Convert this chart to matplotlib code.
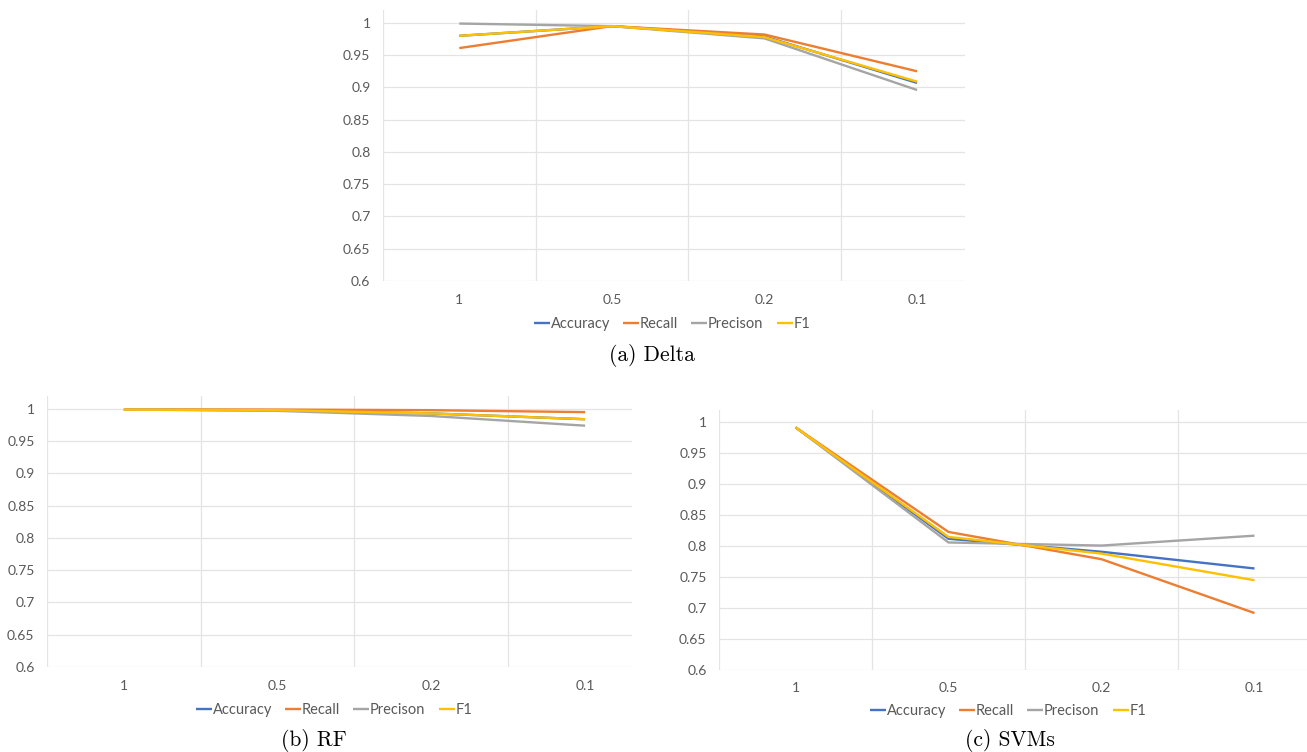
import matplotlib
matplotlib.use('Agg')
import matplotlib.pyplot as plt


fractions = ['1', '0.5', '0.2', '0.1']
metrics = ['Accuracy', 'Recall', 'Precison', 'F1']
colors = ['#4472C4', '#ED7D31', '#A5A5A5', '#FFC000']

delta_accuracy = [0.980, 0.995, 0.979, 0.907]
delta_recall = [0.961, 0.995, 0.982, 0.925]
delta_precision = [0.999, 0.995, 0.976, 0.896]
delta_f1 = [0.980, 0.995, 0.978, 0.909]

rf_accuracy = [0.999, 0.998, 0.993, 0.984]
rf_recall = [0.999, 0.999, 0.998, 0.995]
rf_precision = [0.999, 0.997, 0.989, 0.974]
rf_f1 = [0.999, 0.998, 0.993, 0.984]

svm_accuracy = [0.992, 0.812, 0.791, 0.764]
svm_recall = [0.992, 0.823, 0.779, 0.692]
svm_precision = [0.992, 0.806, 0.801, 0.817]
svm_f1 = [0.992, 0.815, 0.788, 0.745]

yticks = [0.6, 0.65, 0.7, 0.75, 0.8, 0.85, 0.9, 0.95, 1.0]
ytick_labels = ['0.6', '0.65', '0.7', '0.75', '0.8', '0.85', '0.9', '0.95', '1']

W, H = 1307, 752
TEXT = '#595959'
GRID = '#E4E4E4'
FONT = 'Lato'


def px_axes(fig, left, top, right, bottom):
	# pixel box -> figure fraction
	return fig.add_axes([left / W, 1 - bottom / H, (right - left) / W, (bottom - top) / H])


def draw_panel(fig, box, xmax, series, legend_xy, caption, caption_xy):
	ax = px_axes(fig, *box)
	x = list(range(len(fractions)))
	for ys, name, col in zip(series, metrics, colors):
		ax.plot(x, ys, color=col, lw=1.7, label=name, solid_capstyle='butt')

	ax.set_xlim(-0.5, xmax)
	ax.set_ylim(0.6, 1.02)
	ax.set_yticks(yticks)
	ax.set_yticklabels(ytick_labels)
	ax.set_xticks(x)
	ax.set_xticklabels(fractions)
	ax.tick_params(length=0, labelsize=10, labelcolor=TEXT)
	ax.tick_params(axis='y', pad=9)
	ax.tick_params(axis='x', pad=9)
	for lab in ax.get_xticklabels() + ax.get_yticklabels():
		lab.set_fontfamily(FONT)

	# horizontal grid on the value ticks, vertical ones between categories
	for y in yticks:
		ax.axhline(y, color=GRID, lw=0.9, zorder=0)
	for xv in [-0.5, 0.5, 1.5, 2.5]:
		ax.axvline(xv, color=GRID, lw=0.9, zorder=0)
	for s in ax.spines.values():
		s.set_visible(False)

	leg = ax.legend(loc='center', bbox_to_anchor=(legend_xy[0] / W, 1 - legend_xy[1] / H),
		bbox_transform=fig.transFigure, ncol=4, frameon=False,
		handlelength=1.1, handletextpad=0.05, columnspacing=0.9,
		prop={'family': FONT, 'size': 10.5})
	for t in leg.get_texts():
		t.set_color(TEXT)

	fig.text(caption_xy[0] / W, 1 - caption_xy[1] / H, caption, ha='center', va='center',
		fontsize=15.5, fontfamily='cmr10')
	return ax


def main():
	fig = plt.figure(figsize=(W / 100, H / 100), dpi=100)

	draw_panel(fig, (383, 10, 965, 281), 3.314,
		[delta_accuracy, delta_recall, delta_precision, delta_f1],
		(672, 324), '(a) Delta', (652, 356))

	draw_panel(fig, (47, 396, 632, 667), 3.305,
		[rf_accuracy, rf_recall, rf_precision, rf_f1],
		(334, 710), '(b) RF', (314, 740))

	draw_panel(fig, (719, 410, 1331, 670), 3.5,
		[svm_accuracy, svm_recall, svm_precision, svm_f1],
		(1008, 711), '(c) SVMs', (1010, 740))

	fig.savefig('out.png', dpi=100)


if __name__ == '__main__':
	main()
